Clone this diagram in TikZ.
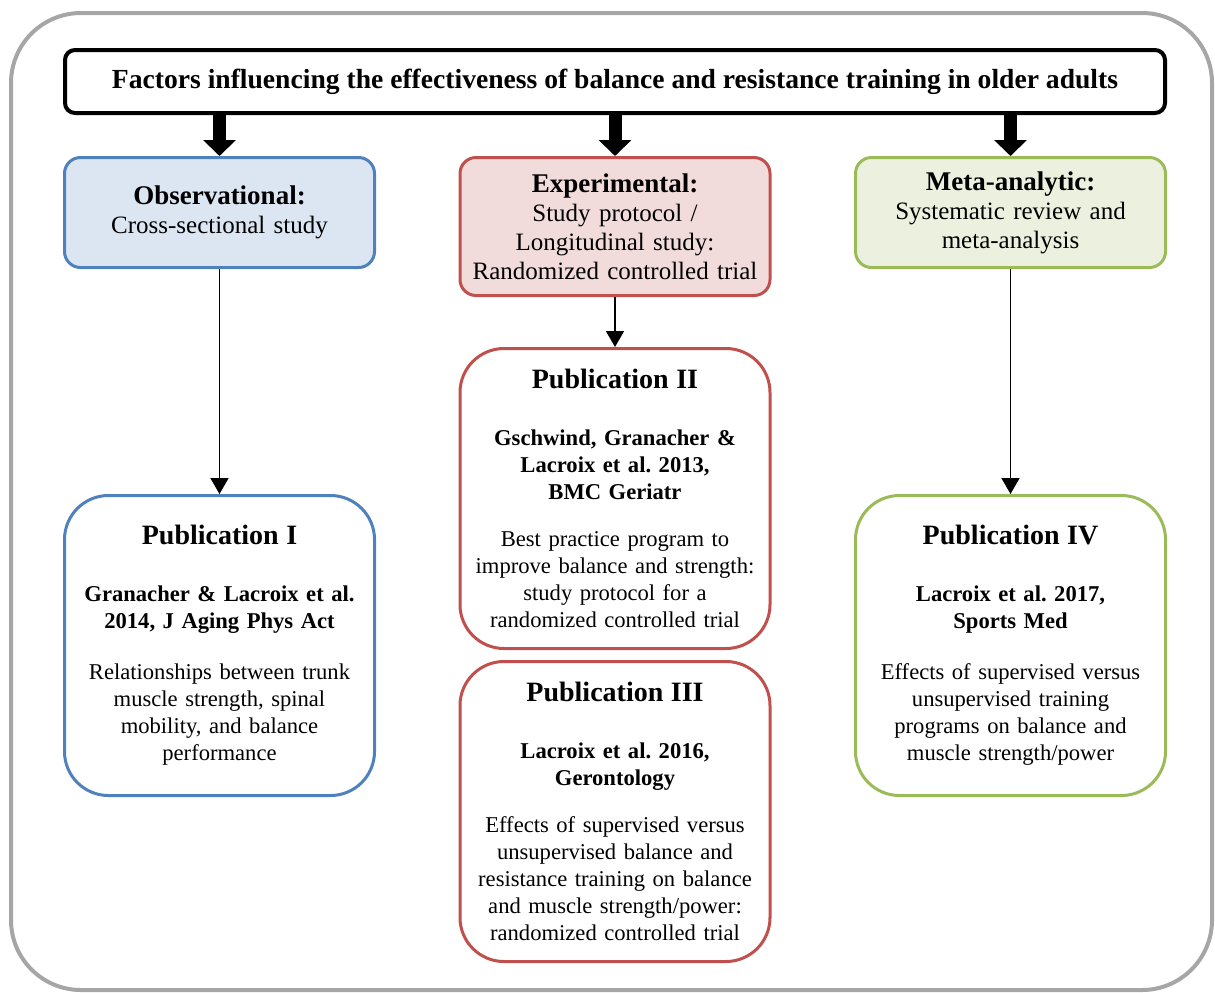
\documentclass[tikz,border=0pt]{standalone}
\usepackage{fontspec}
\setmainfont{Liberation Serif}
\usepackage{xcolor}
\usetikzlibrary{arrows.meta,positioning}
\definecolor{obsblue}{RGB}{79,129,189}
\definecolor{obsfill}{RGB}{220,230,242}
\definecolor{expred}{RGB}{192,80,77}
\definecolor{expfill}{RGB}{242,220,219}
\definecolor{metagreen}{RGB}{155,187,89}
\definecolor{metafill}{RGB}{235,241,222}
\definecolor{framegray}{RGB}{166,166,166}
\newcommand{\headfont}{\fontsize{13.5}{14.5}\selectfont\bfseries}
\newcommand{\pubfont}{\fontsize{14}{16}\selectfont\bfseries}
\frenchspacing

\begin{document}
\begin{tikzpicture}[
      x=0.5pt, y=-0.5pt,
      titlebox/.style={rectangle, draw=black, line width=2pt, rounded corners=5pt, minimum width=550pt, minimum height=31.5pt, font=\fontsize{13.8}{15}\selectfont\bfseries},
      headbox/.style={rectangle, line width=1.5pt, rounded corners=8pt, minimum width=155pt, text width=150pt, align=center, inner sep=2pt, font=\fontsize{12.5}{14.5}\selectfont},
      pubbox/.style={rectangle, line width=1.5pt, fill=white, rounded corners=22pt, minimum width=155pt, minimum height=150pt, text width=150pt, align=center, inner sep=2pt, font=\fontsize{11.3}{13.5}\selectfont},
      bigarrow/.style={-{Triangle[width=16pt,length=8pt]}, line width=6.5pt, draw=black},
      arrow/.style={-{Triangle[width=9pt,length=8pt]}, line width=0.8pt, draw=black},
      frame/.style={draw=framegray, line width=2pt, rounded corners=35pt}
  ]
  \useasboundingbox (0,0) rectangle (1215,992);
  \draw [frame] (11,13) rectangle (1212,990);

  % Nodes
  \node (T) [titlebox] at (615,81.5) {Factors influencing the effectiveness of balance and resistance training in older adults};

  \node (Exp) [headbox, draw=expred, fill=expfill, minimum height=69pt, below=20.5pt of T] {{\headfont Experimental:}\\Study protocol /\\Longitudinal study:\\Randomized controlled trial};
  \node (Obs) [headbox, draw=obsblue, fill=obsfill, minimum height=55pt, below=20.5pt of T.south west, anchor=north west] {{\headfont Observational:}\\Cross-sectional study};
  \node (Meta) [headbox, draw=metagreen, fill=metafill, minimum height=55pt, below=20.5pt of T.south east, anchor=north east] {{\headfont Meta-analytic:}\\Systematic review and\\meta-analysis};

  \node (P1) [pubbox, draw=obsblue, below=112.5pt of Obs] {{\pubfont Publication I}\\[15pt]
    \textbf{Granacher \& Lacroix et al.\\2014, J Aging Phys Act}\\[12pt]
    Relationships between trunk\\muscle strength, spinal\\mobility, and balance\\performance\par\vspace*{4pt}};
  \node (P2) [pubbox, draw=expred, below=25pt of Exp] {{\pubfont Publication II}\\[15pt]
    \textbf{Gschwind, Granacher \&\\Lacroix et al. 2013,\\BMC Geriatr}\\[10pt]
    Best practice program to\\improve balance and strength:\\study protocol for a\\randomized controlled trial\par\vspace*{-4pt}};
  \node (P3) [pubbox, draw=expred, below=5pt of P2] {{\pubfont Publication III}\\[15pt]
    \textbf{Lacroix et al. 2016,\\Gerontology}\\[10pt]
    Effects of supervised versus\\unsupervised balance and\\resistance training on balance\\and muscle strength/power:\\randomized controlled trial\par\vspace*{-4pt}};
  \node (P4) [pubbox, draw=metagreen, below=112.5pt of Meta] {{\pubfont Publication IV}\\[15pt]
    \textbf{Lacroix et al. 2017,\\Sports Med}\\[12pt]
    Effects of supervised versus\\unsupervised training\\programs on balance and\\muscle strength/power\par\vspace*{4pt}};

  % Arrows
  \draw [bigarrow] (T.south -| Obs.north) -- (Obs.north);
  \draw [bigarrow] (T.south -| Exp.north) -- (Exp.north);
  \draw [bigarrow] (T.south -| Meta.north) -- (Meta.north);
  \draw [arrow] (Obs) -- (P1);
  \draw [arrow] (Exp) -- (P2);
  \draw [arrow] (Meta) -- (P4);

\end{tikzpicture}
\end{document}
